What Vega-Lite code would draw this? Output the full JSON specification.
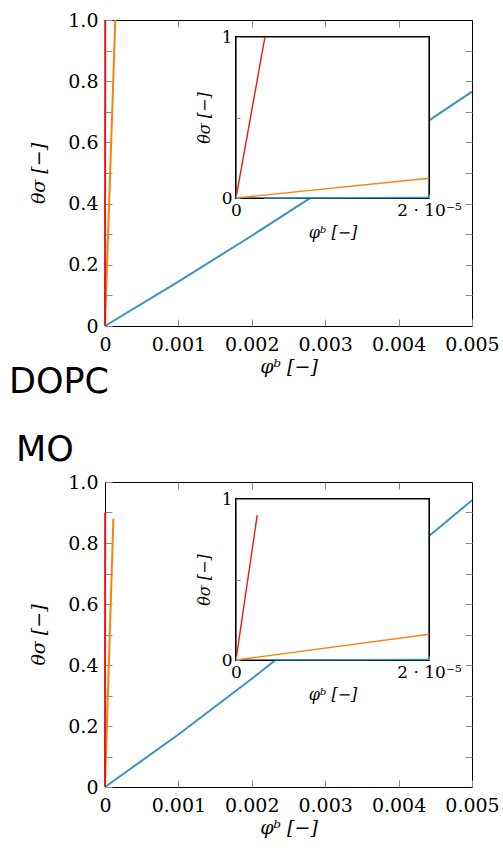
{
  "$schema": "https://vega.github.io/schema/vega-lite/v6.json",
  "autosize": {"type": "pad"},
  "padding": {"left": 8, "top": 10, "right": 5, "bottom": 5},
  "background": "white",
  "config": {
    "view": {"stroke": "black", "strokeWidth": 1},
    "axis": {
      "labelFont": "DejaVu Serif", "labelFontSize": 19, "labelColor": "black",
      "titleFont": "DejaVu Serif", "titleFontSize": 19, "titleFontWeight": "normal", "titleFontStyle": "italic", "titleColor": "black",
      "tickColor": "#8a8a8a", "grid": false, "domain": false, "labelFlush": false, "labelOverlap": false
    },
    "title": {"font": "DejaVu Sans", "fontWeight": "normal", "color": "black"}
  },
  "datasets": {
    "curves": [
      {"panel": "DOPC", "view": "main", "series": "c1", "phi": 0, "theta": 0},
      {"panel": "DOPC", "view": "main", "series": "c1", "phi": 0.001, "theta": 0.145},
      {"panel": "DOPC", "view": "main", "series": "c1", "phi": 0.002, "theta": 0.295},
      {"panel": "DOPC", "view": "main", "series": "c1", "phi": 0.003, "theta": 0.45},
      {"panel": "DOPC", "view": "main", "series": "c1", "phi": 0.004, "theta": 0.605},
      {"panel": "DOPC", "view": "main", "series": "c1", "phi": 0.005, "theta": 0.766},
      {"panel": "DOPC", "view": "main", "series": "c2", "phi": 0, "theta": 0},
      {"panel": "DOPC", "view": "main", "series": "c2", "phi": 0.00014, "theta": 1.0},
      {"panel": "DOPC", "view": "main", "series": "c3", "phi": 0, "theta": 0},
      {"panel": "DOPC", "view": "main", "series": "c3", "phi": 0.000003, "theta": 1.0},
      {"panel": "DOPC", "view": "inset", "series": "c1", "phi": 0.0000029, "theta": 0.0004},
      {"panel": "DOPC", "view": "inset", "series": "c1", "phi": 0.00002, "theta": 0.003},
      {"panel": "DOPC", "view": "inset", "series": "c2", "phi": 0, "theta": 0},
      {"panel": "DOPC", "view": "inset", "series": "c2", "phi": 0.00002, "theta": 0.123},
      {"panel": "DOPC", "view": "inset", "series": "c3", "phi": 0, "theta": 0},
      {"panel": "DOPC", "view": "inset", "series": "c3", "phi": 0.000003, "theta": 1.0},
      {"panel": "MO", "view": "main", "series": "c1", "phi": 0, "theta": 0},
      {"panel": "MO", "view": "main", "series": "c1", "phi": 0.001, "theta": 0.172},
      {"panel": "MO", "view": "main", "series": "c1", "phi": 0.002, "theta": 0.355},
      {"panel": "MO", "view": "main", "series": "c1", "phi": 0.003, "theta": 0.545},
      {"panel": "MO", "view": "main", "series": "c1", "phi": 0.004, "theta": 0.74},
      {"panel": "MO", "view": "main", "series": "c1", "phi": 0.005, "theta": 0.94},
      {"panel": "MO", "view": "main", "series": "c2", "phi": 0, "theta": 0},
      {"panel": "MO", "view": "main", "series": "c2", "phi": 0.000114, "theta": 0.88},
      {"panel": "MO", "view": "main", "series": "c3", "phi": 0, "theta": 0},
      {"panel": "MO", "view": "main", "series": "c3", "phi": 0.0000022, "theta": 0.9},
      {"panel": "MO", "view": "inset", "series": "c1", "phi": 0.0000038, "theta": 0.0006},
      {"panel": "MO", "view": "inset", "series": "c1", "phi": 0.00002, "theta": 0.0034},
      {"panel": "MO", "view": "inset", "series": "c2", "phi": 0, "theta": 0},
      {"panel": "MO", "view": "inset", "series": "c2", "phi": 0.00002, "theta": 0.16},
      {"panel": "MO", "view": "inset", "series": "c3", "phi": 0, "theta": 0},
      {"panel": "MO", "view": "inset", "series": "c3", "phi": 0.0000022, "theta": 0.9}
    ]
  },
  "vconcat": [
    {
      "width": 367, "height": 306,
      "title": {"text": "DOPC", "orient": "bottom", "anchor": "start", "frame": "group", "dx": -96, "fontSize": 35, "offset": -11},
      "data": {"name": "curves"},
      "transform": [{"filter": "datum.panel == 'DOPC'"}],
      "resolve": {"scale": {"x": "independent", "y": "independent"}},
      "layer": [
        {
          "transform": [{"filter": "datum.view == 'main'"}],
          "mark": {"type": "line", "strokeWidth": 2},
          "encoding": {
            "x": {"field": "phi", "type": "quantitative", "scale": {"domain": [0, 0.005]},
              "axis": {"orient": "bottom", "title": "φᵇ [−]", "values": [0, 0.001, 0.002, 0.003, 0.004, 0.005], "labelExpr": "datum.value == 0 ? '0' : format(datum.value, '.3f')", "tickSize": -7, "labelPadding": 16, "titlePadding": 3}},
            "y": {"field": "theta", "type": "quantitative", "scale": {"domain": [0, 1]},
              "axis": {"orient": "left", "title": "θσ [−]", "values": [0, 0.1, 0.2, 0.3, 0.4, 0.5, 0.6, 0.7, 0.8, 0.9, 1.0], "labelExpr": "datum.value < 0.01 ? '0' : (round(datum.value * 10) % 2 == 0 ? format(datum.value, '.1f') : '')", "tickSize": -7, "labelPadding": 14, "titlePadding": 19}},
            "color": {"field": "series", "type": "nominal", "scale": {"domain": ["c1", "c2", "c3"], "range": ["#3a93c0", "#f7820f", "#e31a1c"]}, "legend": null}
          }
        },
        {
          "mark": {"type": "point", "opacity": 0},
          "encoding": {
            "x": {"datum": 0, "type": "quantitative", "scale": {"domain": [0, 0.005]},
              "axis": {"orient": "top", "title": null, "labels": false, "values": [0.001, 0.002, 0.003, 0.004], "tickSize": -7}},
            "y": {"datum": 0, "type": "quantitative", "scale": {"domain": [0, 1]},
              "axis": {"orient": "right", "title": null, "labels": false, "values": [0.1, 0.2, 0.3, 0.4, 0.5, 0.6, 0.7, 0.8, 0.9], "tickSize": -7}}
          }
        },
        {
          "layer": [
            {
              "mark": {"type": "rect", "fill": "white", "stroke": "black", "strokeWidth": 1.2},
              "encoding": {
                "x": {"datum": 0, "type": "quantitative", "scale": {"domain": [0, 0.00002], "range": [131, 324]},
                  "axis": {"orient": "bottom", "offset": -128, "title": "φᵇ [−]", "titleFontSize": 16, "labelFontSize": 17, "values": [0, 0.00002], "labelExpr": "datum.value == 0 ? '0' : '2 · 10⁻⁵'", "tickSize": -4, "labelPadding": 8, "titlePadding": 6, "zindex": 1}},
                "x2": {"datum": 0.00002},
                "y": {"datum": 0, "type": "quantitative", "scale": {"domain": [0, 1], "range": [178, 17]},
                  "axis": {"orient": "left", "offset": -131, "title": "θσ [−]", "titleFontSize": 16, "labelFontSize": 17, "values": [0, 0.5, 1], "labelExpr": "datum.value == 0.5 ? '' : format(datum.value, 'd')", "tickSize": -4, "labelPadding": 8, "titlePadding": 9, "zindex": 1}},
                "y2": {"datum": 1}
              }
            },
            {
              "transform": [{"filter": "datum.view == 'inset'"}],
              "mark": {"type": "line", "strokeWidth": 1.4},
              "encoding": {
                "x": {"field": "phi", "type": "quantitative"},
                "y": {"field": "theta", "type": "quantitative"},
                "color": {"field": "series", "type": "nominal", "legend": null}
              }
            }
          ]
        }
      ]
    },
    {
      "width": 367, "height": 305,
      "title": {"text": "MO", "orient": "top", "anchor": "start", "frame": "group", "dx": -89, "fontSize": 35, "offset": 5},
      "data": {"name": "curves"},
      "transform": [{"filter": "datum.panel == 'MO'"}],
      "resolve": {"scale": {"x": "independent", "y": "independent"}},
      "layer": [
        {
          "transform": [{"filter": "datum.view == 'main'"}],
          "mark": {"type": "line", "strokeWidth": 2},
          "encoding": {
            "x": {"field": "phi", "type": "quantitative", "scale": {"domain": [0, 0.005]},
              "axis": {"orient": "bottom", "title": "φᵇ [−]", "values": [0, 0.001, 0.002, 0.003, 0.004, 0.005], "labelExpr": "datum.value == 0 ? '0' : format(datum.value, '.3f')", "tickSize": -7, "labelPadding": 16, "titlePadding": 3}},
            "y": {"field": "theta", "type": "quantitative", "scale": {"domain": [0, 1]},
              "axis": {"orient": "left", "title": "θσ [−]", "values": [0, 0.1, 0.2, 0.3, 0.4, 0.5, 0.6, 0.7, 0.8, 0.9, 1.0], "labelExpr": "datum.value < 0.01 ? '0' : (round(datum.value * 10) % 2 == 0 ? format(datum.value, '.1f') : '')", "tickSize": -7, "labelPadding": 14, "titlePadding": 19}},
            "color": {"field": "series", "type": "nominal", "scale": {"domain": ["c1", "c2", "c3"], "range": ["#3a93c0", "#f7820f", "#e31a1c"]}, "legend": null}
          }
        },
        {
          "mark": {"type": "point", "opacity": 0},
          "encoding": {
            "x": {"datum": 0, "type": "quantitative", "scale": {"domain": [0, 0.005]},
              "axis": {"orient": "top", "title": null, "labels": false, "values": [0.001, 0.002, 0.003, 0.004], "tickSize": -7}},
            "y": {"datum": 0, "type": "quantitative", "scale": {"domain": [0, 1]},
              "axis": {"orient": "right", "title": null, "labels": false, "values": [0.1, 0.2, 0.3, 0.4, 0.5, 0.6, 0.7, 0.8, 0.9], "tickSize": -7}}
          }
        },
        {
          "layer": [
            {
              "mark": {"type": "rect", "fill": "white", "stroke": "black", "strokeWidth": 1.2},
              "encoding": {
                "x": {"datum": 0, "type": "quantitative", "scale": {"domain": [0, 0.00002], "range": [131, 324]},
                  "axis": {"orient": "bottom", "offset": -127, "title": "φᵇ [−]", "titleFontSize": 16, "labelFontSize": 17, "values": [0, 0.00002], "labelExpr": "datum.value == 0 ? '0' : '2 · 10⁻⁵'", "tickSize": -4, "labelPadding": 8, "titlePadding": 6, "zindex": 1}},
                "x2": {"datum": 0.00002},
                "y": {"datum": 0, "type": "quantitative", "scale": {"domain": [0, 1], "range": [178, 17]},
                  "axis": {"orient": "left", "offset": -131, "title": "θσ [−]", "titleFontSize": 16, "labelFontSize": 17, "values": [0, 0.5, 1], "labelExpr": "datum.value == 0.5 ? '' : format(datum.value, 'd')", "tickSize": -4, "labelPadding": 8, "titlePadding": 9, "zindex": 1}},
                "y2": {"datum": 1}
              }
            },
            {
              "transform": [{"filter": "datum.view == 'inset'"}],
              "mark": {"type": "line", "strokeWidth": 1.4},
              "encoding": {
                "x": {"field": "phi", "type": "quantitative"},
                "y": {"field": "theta", "type": "quantitative"},
                "color": {"field": "series", "type": "nominal", "legend": null}
              }
            }
          ]
        }
      ]
    }
  ],
  "bounds": "flush",
  "spacing": 156
}
